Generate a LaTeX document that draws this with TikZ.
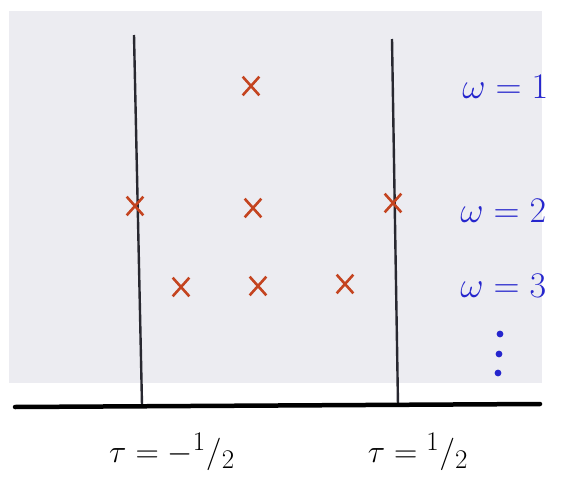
\documentclass[tikz,border=0pt]{standalone}
\usetikzlibrary{shapes.misc}
\definecolor{paper}{RGB}{236,236,241}
\definecolor{pen}{RGB}{40,40,48}
\definecolor{inkblue}{RGB}{38,38,205}
\definecolor{inkred}{RGB}{196,68,32}

\begin{document}
\begin{tikzpicture}[
    x=1pt, y=-1pt,
    xmark/.style={cross out, draw=inkred, line width=2.6pt,
        minimum width=14pt, minimum height=16pt, inner sep=0pt},
    wlabel/.style={text=inkblue, font=\Huge, scale=1.45, transform shape,
        anchor=west, inner sep=0pt},
    tlabel/.style={text=black, font=\Huge, scale=1.3, transform shape, inner sep=0pt},
    wall/.style={pen, line width=2.4pt},
    axisline/.style={black, line width=4.5pt, line cap=round}
]
\useasboundingbox (0,0) rectangle (568,479);

% paper
\fill[paper] (9,11) rectangle (542,383);

% strip boundaries
\coordinate (l1) at (134,35);
\coordinate (l2) at (142,405);
\coordinate (r1) at (392,39);
\coordinate (r2) at (398,405);
\draw[wall] (l1) -- (l2);
\draw[wall] (r1) -- (r2);

% axis
\coordinate (a1) at (15,407);
\coordinate (a2) at (540,404);
\draw[axisline] (a1) -- (a2);

% points
\node[xmark] (c1) at (251,86) {};
\node[xmark] (c2) at (135,206) {};
\node[xmark] (c3) at (253,208) {};
\node[xmark] (c4) at (393,203) {};
\node[xmark] (c5) at (181,287) {};
\node[xmark] (c6) at (258,286) {};
\node[xmark] (c7) at (345,284) {};

% levels
\node[wlabel] (w1) at (462,87) {$\omega = 1$};
\node[wlabel] (w2) at (460,211) {$\omega = 2$};
\node[wlabel] (w3) at (460,286) {$\omega = 3$};
\fill[inkblue] (500,334) circle (3.4) (499,354) circle (3.4) (498,373) circle (3.4);

% tau
\node[tlabel] (t1) at (172,452) {$\tau = -{}^1/_2$};
\node[tlabel] (t2) at (418,452) {$\tau = {}^1/_2$};

\end{tikzpicture}
\end{document}
